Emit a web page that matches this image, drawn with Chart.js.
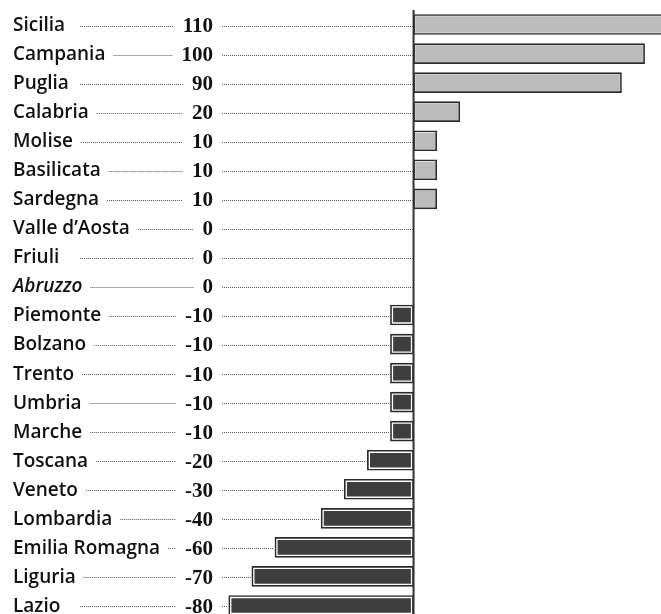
<!DOCTYPE html>
<html lang="it">
<head>
<meta charset="UTF-8">
<title>Regioni</title>
<script src="https://cdn.jsdelivr.net/npm/chart.js@4.4.0/dist/chart.umd.min.js"></script>
<style>
  html, body { margin: 0; padding: 0; background: #fff; overflow: hidden; }
  #wrap { width: 661px; height: 620px; }
</style>
</head>
<body>
<div id="wrap"><canvas id="chart1" width="661" height="620"></canvas></div>
<script>
// dati
const regioni = ['Sicilia', 'Campania', 'Puglia', 'Calabria', 'Molise', 'Basilicata', 'Sardegna',
  "Valle d\u2019Aosta", 'Friuli', 'Abruzzo', 'Piemonte', 'Bolzano', 'Trento', 'Umbria', 'Marche',
  'Toscana', 'Veneto', 'Lombardia', 'Emilia Romagna', 'Liguria', 'Lazio'];
const valori = [110, 100, 90, 20, 10, 10, 10, 0, 0, 0, -10, -10, -10, -10, -10, -20, -30, -40, -60, -70, -80];
const corsivo = ['Abruzzo'];

// la scala: zero a circa 413px, 2.31px per unità
const xMin = -179;
const xMax = 107.1;

const fontNome = '600 19px "Open Sans"';
const fontValore = 'bold 21px "Liberation Serif"';

// etichette, valori e linee puntinate disegnate a sinistra delle barre
const etichette = {
  id: 'etichette',
  afterDatasetsDraw(chart) {
    const ctx = chart.ctx;
    const xs = chart.scales.x;
    const ys = chart.scales.y;
    const zero = xs.getPixelForValue(0);
    ctx.save();
    ctx.textBaseline = 'middle';
    regioni.forEach((nome, i) => {
      const y = ys.getPixelForValue(i) + 1;
      const v = valori[i];
      // nome regione
      ctx.font = corsivo.includes(nome) ? 'italic ' + fontNome : fontNome;
      ctx.fillStyle = '#111';
      ctx.textAlign = 'left';
      ctx.fillText(nome, 13, y);
      const fineNome = 13 + ctx.measureText(nome).width;
      // valore
      ctx.font = fontValore;
      ctx.textAlign = 'right';
      ctx.fillText(String(v), 213, y + 1);
      const inizioValore = 213 - ctx.measureText(String(v)).width;
      // puntini
      ctx.strokeStyle = '#555';
      ctx.lineWidth = 1;
      ctx.setLineDash([1, 1]);
      const a = Math.max(fineNome + 8, 80);
      const b = inizioValore - 9;
      const yy = Math.round(y) + 0.5;
      if (b > a) {
        ctx.beginPath(); ctx.moveTo(a, yy); ctx.lineTo(b, yy); ctx.stroke();
      }
      const fine = v < 0 ? xs.getPixelForValue(v) - 1 : zero - 1;
      ctx.beginPath(); ctx.moveTo(222, yy); ctx.lineTo(fine, yy); ctx.stroke();
    });
    ctx.setLineDash([]);
    // linea dello zero
    ctx.strokeStyle = '#333';
    ctx.lineWidth = 2;
    ctx.beginPath();
    ctx.moveTo(zero, chart.chartArea.top);
    ctx.lineTo(zero, chart.chartArea.bottom);
    ctx.stroke();
    ctx.restore();
  }
};

const ctx = document.getElementById('chart1');
new Chart(ctx, {
  type: 'bar',
  data: {
    labels: regioni,
    datasets: [
      {
        // cornice
        data: valori,
        backgroundColor: 'rgba(0,0,0,0)',
        borderColor: '#2a2a2a',
        borderWidth: 1,
        borderSkipped: false,
        barThickness: 20,
        grouped: false,
        order: 0
      },
      {
        // riempimento
        data: valori,
        backgroundColor: valori.map(v => v > 0 ? '#bcbcbc' : '#3e3e3e'),
        borderColor: '#ffffff',
        borderWidth: valori.map(v => v > 0 ? 2 : 3),
        borderSkipped: false,
        barThickness: 20,
        grouped: false,
        order: 1
      }
    ]
  },
  options: {
    indexAxis: 'y',
    responsive: false,
    animation: false,
    layout: { padding: { top: 10, bottom: 0, left: 0, right: 0 } },
    scales: {
      x: { min: xMin, max: xMax, display: false },
      y: { display: false }
    },
    plugins: {
      legend: { display: false },
      tooltip: { enabled: false }
    }
  },
  plugins: [etichette]
});
</script>
</body>
</html>
